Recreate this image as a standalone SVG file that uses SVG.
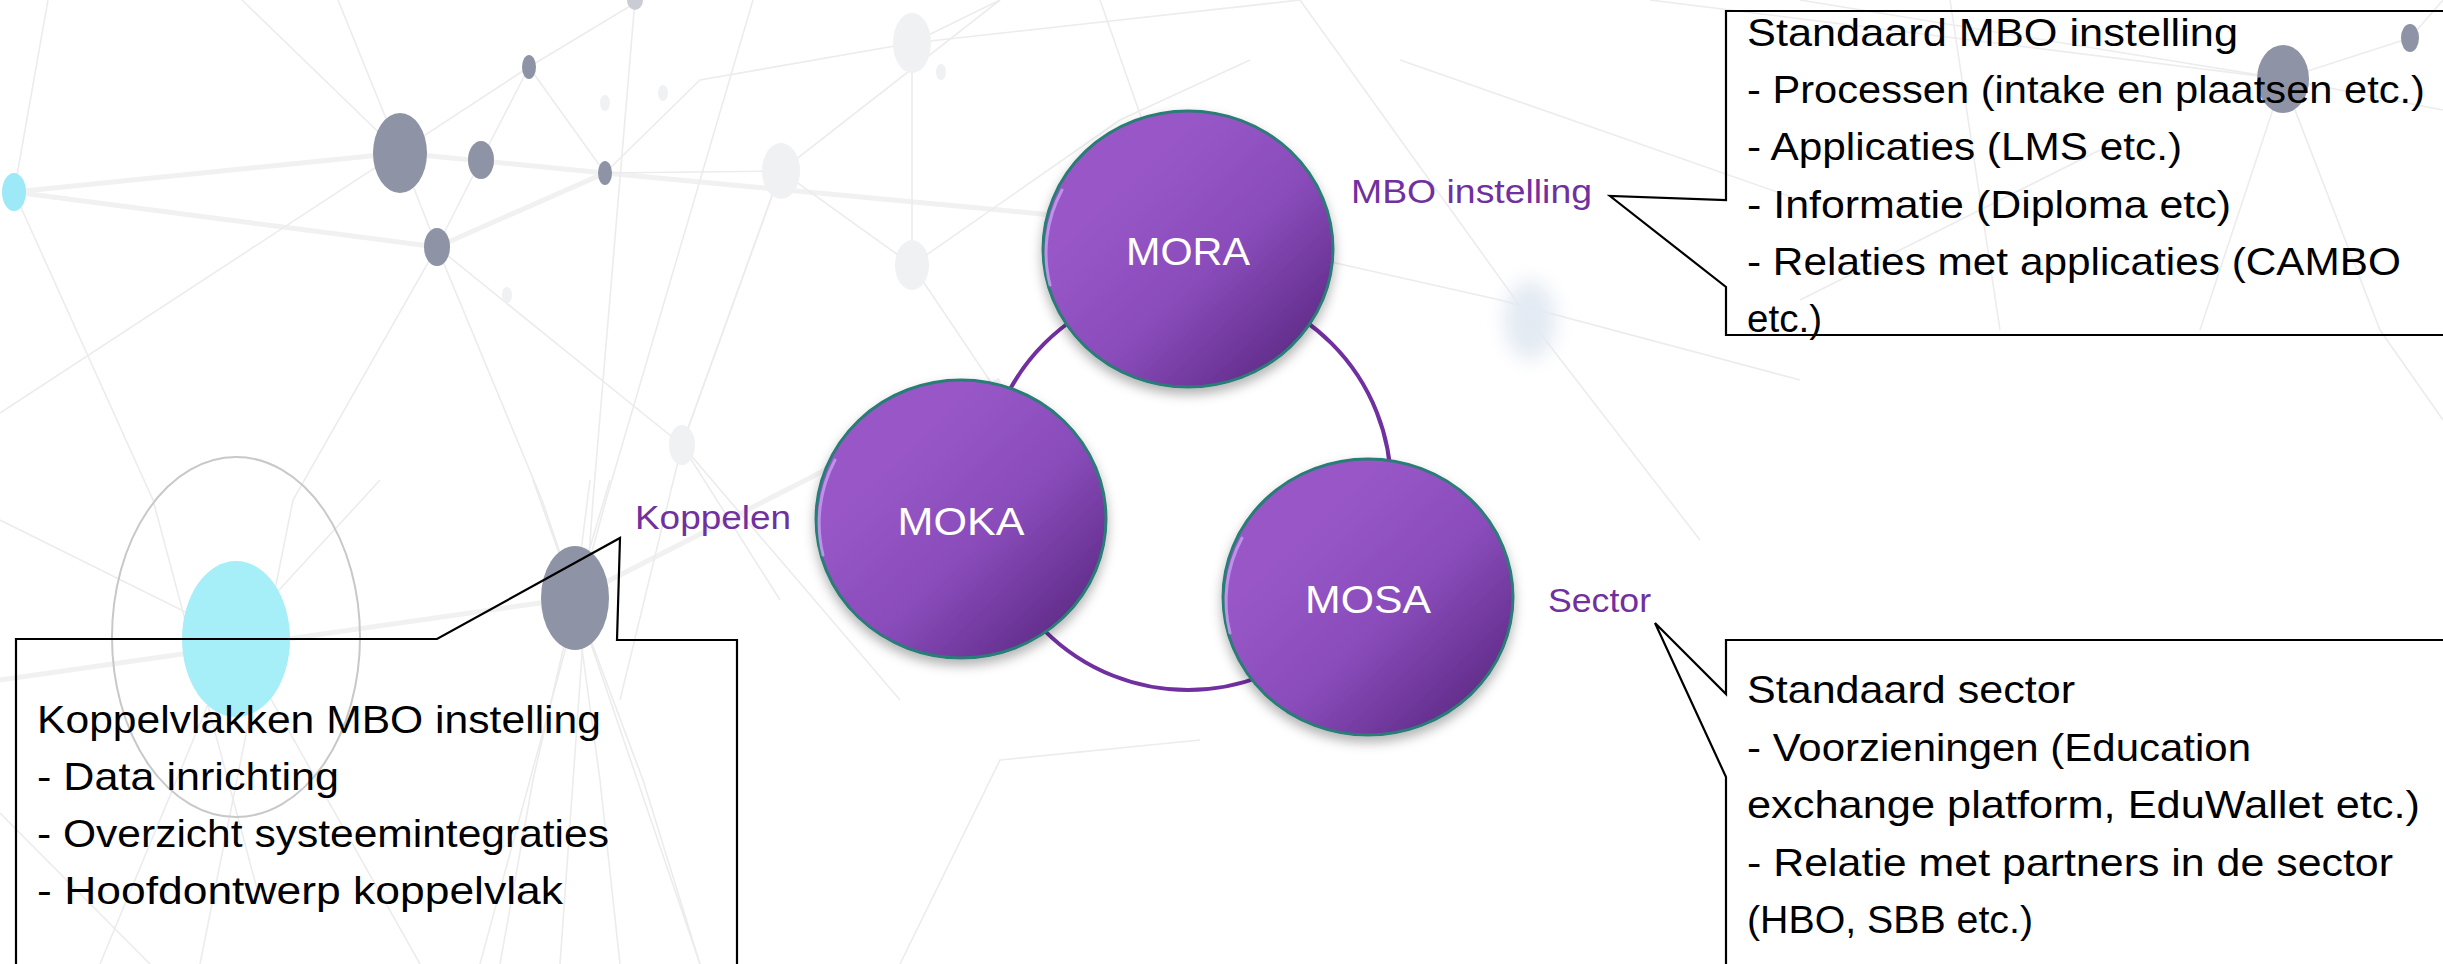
<svg xmlns="http://www.w3.org/2000/svg" width="2443" height="964" viewBox="0 0 2443 964">
<defs>
<style>
.bg{stroke:#ececed;stroke-width:1.6;fill:none}
.bgt{stroke:#f1f1f2;stroke-width:5;fill:none}
.dot{fill:#8e94a6}
.fdot{fill:#f0f1f3}
.call{fill:none;stroke:#000;stroke-width:2.2;stroke-linejoin:miter}
.ct{font-family:"Liberation Sans",Arial,sans-serif;font-size:39px;fill:#000}
.lbl{font-family:"Liberation Sans",Arial,sans-serif;font-size:33px;fill:#7030a0}
.nt{font-family:"Liberation Sans",Arial,sans-serif;font-size:39px;fill:#fff;text-anchor:middle}
.node{fill:url(#pg);stroke:#2a7d76;stroke-width:3;filter:url(#sh)}
.hl{fill:none;stroke:#c7a2f2;stroke-width:3;stroke-linecap:round;opacity:.8}
</style>
<linearGradient id="pg" x1="0.3" y1="0.25" x2="0.95" y2="0.9">
<stop offset="0" stop-color="#9857c7"/>
<stop offset="0.45" stop-color="#8a4cbb"/>
<stop offset="1" stop-color="#5a2782"/>
</linearGradient>
<filter id="sh" x="-20%" y="-20%" width="140%" height="150%">
<feDropShadow dx="0" dy="6" stdDeviation="6" flood-color="#000" flood-opacity="0.3"/>
</filter>
<filter id="blur" x="-50%" y="-50%" width="200%" height="200%">
<feGaussianBlur stdDeviation="10"/>
</filter>
</defs>
<rect width="2443" height="964" fill="#fff"/>
<g id="background">
<path class="bgt" d="M14 192 L400 153 L605 173 L1000 210 L1180 228"/>
<path class="bgt" d="M14 192 L437 247 L605 173"/>
<path class="bgt" d="M0 680 L575 598 L800 483 L1000 380"/>
<path class="bg" d="M48 0 L14 192 L153 500 L260 900"/>
<path class="bg" d="M0 413 L529 67 L640 0"/>
<path class="bg" d="M242 0 L400 153"/>
<path class="bg" d="M338 0 L400 153 L437 247 L542 500 L700 964"/>
<path class="bg" d="M437 247 L293 500 L200 964"/>
<path class="bg" d="M529 67 L605 173 L781 171 L912 265"/>
<path class="bg" d="M529 67 L481 160 L437 247"/>
<path class="bg" d="M635 0 L593 500 L560 964"/>
<path class="bg" d="M753 0 L606 500 L480 964"/>
<path class="bg" d="M1000 0 L781 171 L682 445 L620 700"/>
<path class="bg" d="M912 43 L912 265 L1050 470"/>
<path class="bg" d="M912 43 L1000 0"/>
<path class="bg" d="M781 171 L682 445 L900 700"/>
<path class="bg" d="M605 173 L700 80 L912 43 L1300 0"/>
<path class="bg" d="M437 247 L682 445 L780 600"/>
<path class="bg" d="M912 265 L1120 120 L1250 60"/>
<path class="bg" d="M533 480 L575 598 L533 780 L500 964"/>
<path class="bg" d="M590 480 L575 598 L600 780 L620 964"/>
<path class="bg" d="M610 480 L575 598 L643 780 L700 964"/>
<path class="bg" d="M0 813 L150 964"/>
<path class="bg" d="M0 520 L236 637 L420 964"/>
<path class="bg" d="M100 964 L236 637 L380 480"/>
<path class="bg" d="M900 964 L1000 760 L1200 740"/>
<path class="bg" d="M1100 0 L1180 228 L1500 300 L1800 380"/>
<path class="bg" d="M1300 0 L1530 320 L1700 540"/>
<path class="bg" d="M1650 0 L2283 79 L2443 110"/>
<path class="bg" d="M1800 0 L2283 79 L2200 330"/>
<path class="bg" d="M2283 79 L2410 38"/>
<path class="bg" d="M2410 38 L2443 0"/>
<path class="bg" d="M2283 79 L2380 330 L2443 420"/>
<path class="bg" d="M1950 0 L2000 330"/>
<path class="bg" d="M2100 150 L1800 300"/>
<path class="bg" d="M1400 60 L1800 200"/>
<ellipse class="fdot" cx="781" cy="171" rx="19" ry="28"/>
<ellipse class="fdot" cx="912" cy="43" rx="19" ry="30"/>
<ellipse class="fdot" cx="912" cy="265" rx="17" ry="25"/>
<ellipse class="fdot" cx="682" cy="445" rx="13" ry="20"/>
<ellipse class="fdot" cx="663" cy="93" rx="5" ry="8"/>
<ellipse class="fdot" cx="605" cy="103" rx="5" ry="8"/>
<ellipse class="fdot" cx="507" cy="295" rx="5" ry="8"/>
<ellipse class="fdot" cx="941" cy="72" rx="5" ry="8"/>
<ellipse fill="#c9ccd3" cx="635" cy="0" rx="8" ry="10"/>
<ellipse fill="#9ee9f7" cx="14" cy="192" rx="12" ry="19"/>
<ellipse class="dot" cx="400" cy="153" rx="27" ry="40"/>
<ellipse class="dot" cx="481" cy="160" rx="13" ry="19"/>
<ellipse class="dot" cx="529" cy="67" rx="7" ry="12"/>
<ellipse class="dot" cx="605" cy="173" rx="7" ry="12"/>
<ellipse class="dot" cx="437" cy="247" rx="13" ry="19"/>
<ellipse class="dot" cx="575" cy="598" rx="34" ry="52"/>
<ellipse fill="#a6eef8" cx="236" cy="639" rx="54" ry="78"/>
<ellipse fill="none" stroke="#c8c8c8" stroke-width="2" cx="236" cy="637" rx="124" ry="180"/>
<ellipse class="dot" cx="2283" cy="79" rx="26" ry="34"/>
<ellipse class="dot" cx="2410" cy="38" rx="9" ry="14"/>
<ellipse fill="#e3eaf3" cx="1530" cy="320" rx="26" ry="40" filter="url(#blur)"/>
</g>
<g id="connectors">
<circle cx="1188" cy="487" r="203" fill="none" stroke="#7030a0" stroke-width="4"/>
<path class="call" d="M2460 11 L1726 11 L1726 200 L1610 196 L1726 287 L1726 335 L2460 335"/>
<path class="call" d="M16 980 L16 639 L437 639 L620 538 L617 640 L737 640 L737 980"/>
<path class="call" d="M2460 640 L1726 640 L1726 694 L1655 623 L1726 777 L1726 980"/>
</g>
<g id="node-mora">
<ellipse class="node" cx="1188" cy="249" rx="145" ry="138"/>
<path class="hl" d="M1050 285 A145 138 0 0 1 1062 190"/>
<text class="nt" x="1188" y="265" textLength="124" lengthAdjust="spacingAndGlyphs">MORA</text>
</g>
<g id="node-moka">
<ellipse class="node" cx="961" cy="519" rx="145" ry="139"/>
<path class="hl" d="M823 555 A145 139 0 0 1 835 460"/>
<text class="nt" x="961" y="535" textLength="127" lengthAdjust="spacingAndGlyphs">MOKA</text>
</g>
<g id="node-mosa">
<ellipse class="node" cx="1368" cy="597" rx="145" ry="138"/>
<path class="hl" d="M1230 633 A145 138 0 0 1 1242 538"/>
<text class="nt" x="1368" y="613" textLength="126" lengthAdjust="spacingAndGlyphs">MOSA</text>
</g>
<g id="label-mbo">
<text class="lbl" x="1351" y="203" textLength="241" lengthAdjust="spacingAndGlyphs">MBO instelling</text>
</g>
<g id="label-koppelen">
<text class="lbl" x="635" y="529" textLength="156" lengthAdjust="spacingAndGlyphs">Koppelen</text>
</g>
<g id="label-sector">
<text class="lbl" x="1548" y="612" textLength="103" lengthAdjust="spacingAndGlyphs">Sector</text>
</g>
<g id="callout-mbo">
<text class="ct" x="1747" y="46" textLength="491" lengthAdjust="spacingAndGlyphs">Standaard MBO instelling</text>
<text class="ct" x="1747" y="103" textLength="678" lengthAdjust="spacingAndGlyphs">- Processen (intake en plaatsen etc.)</text>
<text class="ct" x="1747" y="160" textLength="435" lengthAdjust="spacingAndGlyphs">- Applicaties (LMS etc.)</text>
<text class="ct" x="1747" y="218" textLength="484" lengthAdjust="spacingAndGlyphs">- Informatie (Diploma etc)</text>
<text class="ct" x="1747" y="275" textLength="654" lengthAdjust="spacingAndGlyphs">- Relaties met applicaties (CAMBO</text>
<text class="ct" x="1747" y="332" textLength="75" lengthAdjust="spacingAndGlyphs">etc.)</text>
</g>
<g id="callout-koppelen">
<text class="ct" x="37" y="733" textLength="564" lengthAdjust="spacingAndGlyphs">Koppelvlakken MBO instelling</text>
<text class="ct" x="37" y="790" textLength="302" lengthAdjust="spacingAndGlyphs">- Data inrichting</text>
<text class="ct" x="37" y="847" textLength="572" lengthAdjust="spacingAndGlyphs">- Overzicht systeemintegraties</text>
<text class="ct" x="37" y="904" textLength="526" lengthAdjust="spacingAndGlyphs">- Hoofdontwerp koppelvlak</text>
</g>
<g id="callout-sector">
<text class="ct" x="1747" y="703" textLength="328" lengthAdjust="spacingAndGlyphs">Standaard sector</text>
<text class="ct" x="1747" y="761" textLength="504" lengthAdjust="spacingAndGlyphs">- Voorzieningen (Education</text>
<text class="ct" x="1747" y="818" textLength="673" lengthAdjust="spacingAndGlyphs">exchange platform, EduWallet etc.)</text>
<text class="ct" x="1747" y="876" textLength="646" lengthAdjust="spacingAndGlyphs">- Relatie met partners in de sector</text>
<text class="ct" x="1747" y="933" textLength="286" lengthAdjust="spacingAndGlyphs">(HBO, SBB etc.)</text>
</g>
</svg>
